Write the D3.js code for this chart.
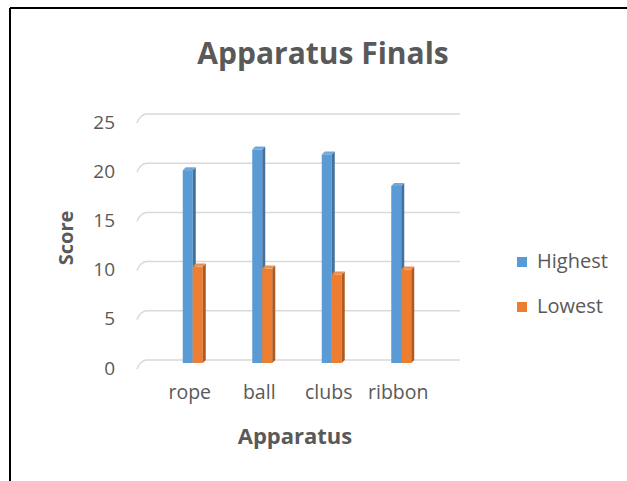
<!DOCTYPE html>
<html>
<head>
<meta charset="utf-8">
<script src="https://cdn.jsdelivr.net/npm/d3@7"></script>
<style>
  body { margin: 0; background: #fff; }
  text { font-family: "Open Sans", Lato, sans-serif; fill: #595959; }
</style>
</head>
<body>
<script>
// Data
var categories = ["rope", "ball", "clubs", "ribbon"];
var seriesNames = ["Highest", "Lowest"];
var highest = [19.6, 21.7, 21.2, 18.0];
var lowest = [9.8, 9.6, 9.0, 9.5];
var yTicks = [0, 5, 10, 15, 20, 25];

var colors = {Highest: "#5B9BD5", Lowest: "#ED7D31"};
var sideColors = {Highest: "#41719C", Lowest: "#AE5A21"};
var topColors = {Highest: "#6FA8DC", Lowest: "#F08F4F"};

var width = 627, height = 481;

var svg = d3.select("body").append("svg")
    .attr("width", width)
    .attr("height", height);

// outer border (top and left edges visible)
svg.append("line").attr("x1", 10).attr("y1", 8).attr("x2", width).attr("y2", 8)
    .attr("stroke", "#000").attr("stroke-width", 2);
svg.append("line").attr("x1", 10).attr("y1", 8).attr("x2", 10).attr("y2", height)
    .attr("stroke", "#000").attr("stroke-width", 2);

// Scales
var x = d3.scaleBand()
    .domain(categories)
    .range([158, 436]);

var x1 = d3.scaleBand()
    .domain(seriesNames)
    .range([x.bandwidth() / 2 - 10, x.bandwidth() / 2 + 10]);

var y = d3.scaleLinear()
    .domain([0, 25])
    .range([360, 114]);

// Gridlines with a small 3D slant on the left
svg.append("g").selectAll("path")
  .data(yTicks)
  .enter().append("path")
    .attr("d", function(d) {
      var yy = y(d);
      return "M137," + (yy + 9) + " Q140," + (yy + 1) + " 146," + yy + " L460," + yy;
    })
    .attr("fill", "none")
    .attr("stroke", "#D9D9D9")
    .attr("stroke-width", 1.5);

// Y axis labels
var yAxis = svg.append("g")
    .attr("transform", "translate(117,8)")
    .call(d3.axisLeft(y).tickValues(yTicks).tickSize(0).tickPadding(2));
yAxis.select(".domain").remove();
yAxis.selectAll("text")
    .style("font-family", "'Open Sans', sans-serif")
    .style("font-size", "19px")
    .attr("fill", "#595959");

// Bars
var rows = categories.map(function(c, i) {
  return {cat: c, values: [
    {name: "Highest", value: highest[i]},
    {name: "Lowest", value: lowest[i]}
  ]};
});

var dx = 3, dy = 3;
var groups = svg.append("g").selectAll("g")
  .data(rows)
  .enter().append("g")
    .attr("transform", function(d) { return "translate(" + x(d.cat) + ",0)"; });

var bars = groups.selectAll("g")
  .data(function(d) { return d.values; })
  .enter().append("g");

bars.append("rect")
    .attr("x", function(d) { return x1(d.name); })
    .attr("y", function(d) { return y(d.value) + dy; })
    .attr("width", x1.bandwidth())
    .attr("height", function(d) { return y(0) - y(d.value); })
    .attr("fill", function(d) { return colors[d.name]; });

bars.append("path")
    .attr("d", function(d) {
      var xr = x1(d.name) + x1.bandwidth();
      return "M" + xr + "," + (y(d.value) + dy) +
        " L" + (xr + dx) + "," + y(d.value) +
        " L" + (xr + dx) + "," + y(0) +
        " L" + xr + "," + (y(0) + dy) + "Z";
    })
    .attr("fill", function(d) { return sideColors[d.name]; });

bars.append("path")
    .attr("d", function(d) {
      var xl = x1(d.name), xr = xl + x1.bandwidth();
      return "M" + xl + "," + (y(d.value) + dy) +
        " L" + (xl + dx) + "," + y(d.value) +
        " L" + (xr + dx) + "," + y(d.value) +
        " L" + xr + "," + (y(d.value) + dy) + "Z";
    })
    .attr("fill", function(d) { return topColors[d.name]; });

// X axis labels
var xAxis = svg.append("g")
    .attr("transform", "translate(-3,382)")
    .call(d3.axisBottom(x).tickSize(0).tickPadding(3));
xAxis.select(".domain").remove();
xAxis.selectAll("text")
    .style("font-family", "'Open Sans', sans-serif")
    .style("font-size", "19.5px")
    .attr("fill", "#595959");

// Title
svg.append("text")
    .attr("x", 323)
    .attr("y", 64)
    .attr("text-anchor", "middle")
    .style("font-size", "30px")
    .style("font-weight", "bold")
    .text("Apparatus Finals");

// Axis titles
svg.append("text")
    .attr("x", 295)
    .attr("y", 444)
    .attr("text-anchor", "middle")
    .style("font-size", "22px")
    .style("font-weight", "bold")
    .text("Apparatus");

svg.append("text")
    .attr("transform", "translate(73,238) rotate(-90)")
    .attr("text-anchor", "middle")
    .style("font-size", "20px")
    .style("font-weight", "bold")
    .text("Score");

// Legend
var legend = svg.append("g").selectAll("g")
  .data(seriesNames)
  .enter().append("g")
    .attr("transform", function(d, i) { return "translate(517," + (257 + i * 45) + ")"; });

legend.append("rect")
    .attr("width", 10)
    .attr("height", 10)
    .attr("fill", function(d) { return colors[d]; });

legend.append("text")
    .attr("x", 20)
    .attr("y", 11)
    .style("font-size", "20px")
    .text(function(d) { return d; });
</script>
</body>
</html>
